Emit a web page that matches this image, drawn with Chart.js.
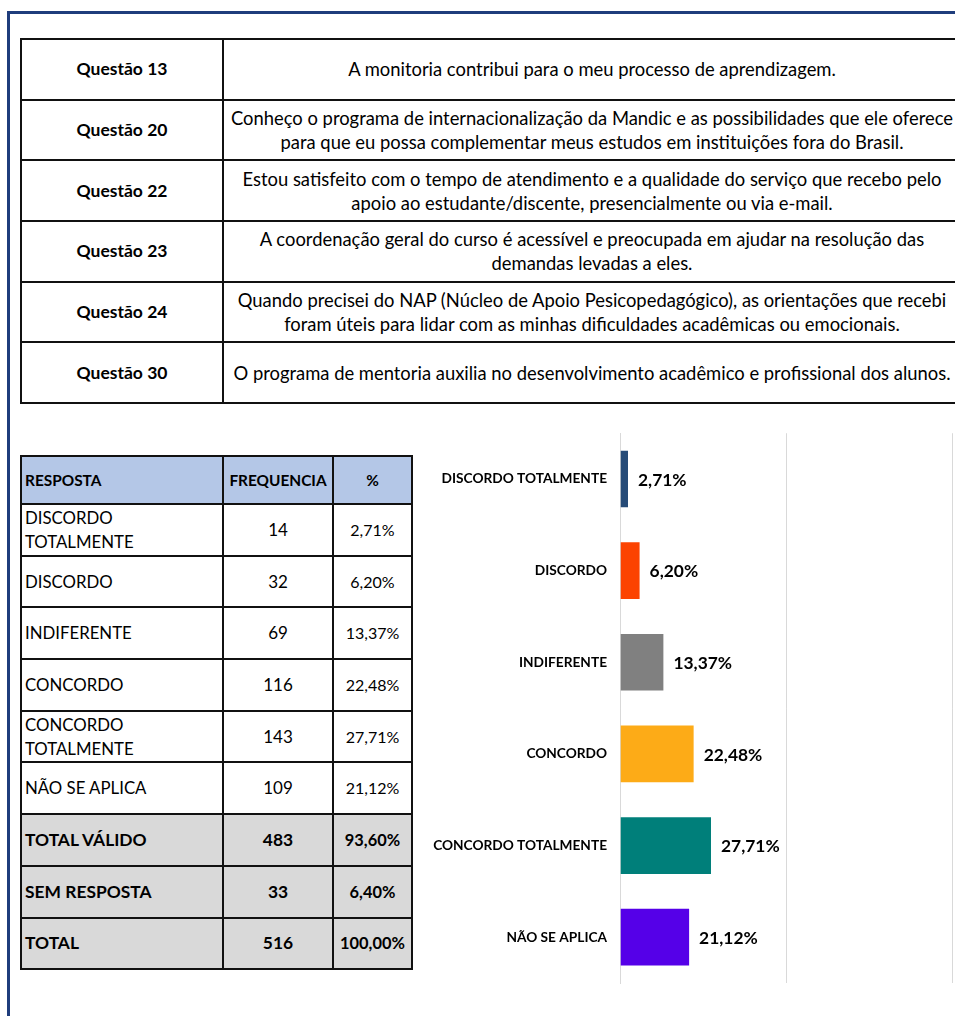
<!DOCTYPE html>
<html><head><meta charset="utf-8">
<script src="https://cdn.jsdelivr.net/npm/chart.js@4.4.0/dist/chart.umd.min.js"></script>
<style>
html,body{margin:0;padding:0;background:#fff;width:955px;height:1016px;overflow:hidden;font-family:Lato,"Open Sans",sans-serif;color:#000}
#frame{position:absolute;left:7px;top:11px;width:2000px;height:2000px;border-left:3px solid #1f3d7c;border-top:3px solid #1f3d7c;}
table{border-collapse:collapse;table-layout:fixed;position:absolute;}
#qtable{left:20px;top:38px;width:940px;}
#qtable td{border:2px solid #111;height:58.7px;padding:0;font-size:18.4px;line-height:24px;text-align:center;vertical-align:middle;white-space:nowrap;overflow:hidden}
#qtable td.q{font-weight:bold;font-size:17.5px}
#rtable{left:20px;top:455px;width:391px;}
#rtable td{border:2px solid #111;padding:0 3px;font-size:16.8px;line-height:24px;vertical-align:middle;white-space:nowrap;overflow:hidden}
#rtable tr.h td{background:#b4c7e7;font-weight:bold;font-size:15.4px;height:46px}
#rtable tr.d td{height:49.7px}
#rtable tr.t td{background:#d9d9d9;font-weight:bold;height:49.7px;font-size:17.4px}
#rtable td.c{text-align:center;font-size:17px}
#rtable td.p{text-align:center;font-size:16px}
#rtable tr.h td.c{font-size:15.4px}
#rtable tr.t td.c{font-size:17.4px}
#rtable tr.t td.p{font-size:16.4px}
#chartbox{position:absolute;left:420px;top:420px;width:535px;height:580px}
</style></head>
<body>
<div id="frame"></div>
<table id="qtable"><colgroup><col style="width:202px"><col style="width:738px"></colgroup><tbody id="qbody"></tbody></table>
<table id="rtable"><colgroup><col style="width:202px"><col style="width:110px"><col style="width:79px"></colgroup><tbody id="rbody"></tbody></table>
<div id="chartbox"><canvas id="c" width="535" height="580"></canvas></div>
<script>
// ---- data ----
const questionIds = ["Questão 13","Questão 20","Questão 22","Questão 23","Questão 24","Questão 30"];
const questionTexts = [
  ["A monitoria contribui para o meu processo de aprendizagem."],
  ["Conheço o programa de internacionalização da Mandic e as possibilidades que ele oferece","para que eu possa complementar meus estudos em instituições fora do Brasil."],
  ["Estou satisfeito com o tempo de atendimento e a qualidade do serviço que recebo pelo","apoio ao estudante/discente, presencialmente ou via e-mail."],
  ["A coordenação geral do curso é acessível e preocupada em ajudar na resolução das","demandas levadas a eles."],
  ["Quando precisei do NAP (Núcleo de Apoio Pesicopedagógico), as orientações que recebi","foram úteis para lidar com as minhas dificuldades acadêmicas ou emocionais."],
  ["O programa de mentoria auxilia no desenvolvimento acadêmico e profissional dos alunos."]
];
const headers = ["RESPOSTA","FREQUENCIA","%"];
const categories = ["DISCORDO TOTALMENTE","DISCORDO","INDIFERENTE","CONCORDO","CONCORDO TOTALMENTE","NÃO SE APLICA"];
const tableLabels = [["DISCORDO","TOTALMENTE"],["DISCORDO"],["INDIFERENTE"],["CONCORDO"],["CONCORDO","TOTALMENTE"],["NÃO SE APLICA"]];
const frequencies = [14,32,69,116,143,109];
const percents = [2.71,6.20,13.37,22.48,27.71,21.12];
const totalLabels = ["TOTAL VÁLIDO","SEM RESPOSTA","TOTAL"];
const totalFreq = [483,33,516];
const totalPct = [93.60,6.40,100.00];
const barColors = ["#264b77","#fc4301","#808080","#fdab17","#007f7a","#5500e8"];

const fmt = v => v.toFixed(2).replace('.',',') + '%';

// ---- question table ----
const qb = document.getElementById('qbody');
questionIds.forEach((q,i)=>{
  const tr=document.createElement('tr');
  tr.innerHTML = '<td class="q">'+q+'</td><td>'+questionTexts[i].join('<br>')+'</td>';
  qb.appendChild(tr);
});
// ---- response table ----
const rb = document.getElementById('rbody');
let h=document.createElement('tr'); h.className='h';
h.innerHTML='<td>'+headers[0]+'</td><td class="c">'+headers[1]+'</td><td class="c">'+headers[2]+'</td>';
rb.appendChild(h);
tableLabels.forEach((l,i)=>{
  const tr=document.createElement('tr'); tr.className='d';
  tr.innerHTML='<td>'+l.join('<br>')+'</td><td class="c">'+frequencies[i]+'</td><td class="p">'+fmt(percents[i])+'</td>';
  rb.appendChild(tr);
});
totalLabels.forEach((l,i)=>{
  const tr=document.createElement('tr'); tr.className='t';
  tr.innerHTML='<td>'+l+'</td><td class="c">'+totalFreq[i]+'</td><td class="p">'+fmt(totalPct[i])+'</td>';
  rb.appendChild(tr);
});

// ---- chart ----
const valueLabels = {
  id:'valueLabels',
  afterDatasetsDraw(chart){
    const ctx=chart.ctx;
    const meta=chart.getDatasetMeta(0);
    ctx.save();
    ctx.font='bold 17.4px Lato, "Open Sans", sans-serif';
    ctx.fillStyle='#000';
    ctx.textAlign='left';
    ctx.textBaseline='middle';
    meta.data.forEach((el,i)=>{
      ctx.fillText(fmt(chart.data.datasets[0].data[i]), el.x+9, el.y+1);
    });
    ctx.restore();
  }
};
new Chart(document.getElementById('c'),{
  type:'bar',
  data:{labels:categories,datasets:[{data:percents,backgroundColor:barColors,borderColor:'rgba(255,255,255,0.4)',borderWidth:1,categoryPercentage:1,barPercentage:0.64}]},
  options:{
    indexAxis:'y',responsive:false,animation:false,devicePixelRatio:1,
    layout:{padding:{top:8,right:3,bottom:17,left:0}},
    plugins:{legend:{display:false},tooltip:{enabled:false}},
    scales:{
      x:{min:0,max:100,ticks:{display:false,stepSize:50},grid:{color:'#d9d9d9',lineWidth:1,drawTicks:false},border:{display:false},afterFit(s){s.height=0;}},
      y:{grid:{display:false},border:{color:'#d9d9d9',width:1},ticks:{color:'#000',padding:5,font:{family:'Lato',weight:'bold',size:13.7}},afterFit(s){s.width=200;}}
    }
  },
  plugins:[valueLabels]
});
</script>
</body></html>
